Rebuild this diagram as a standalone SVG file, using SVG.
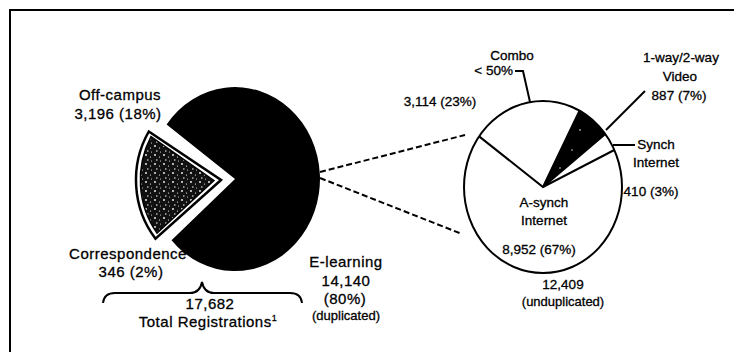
<svg xmlns="http://www.w3.org/2000/svg" width="734" height="352" viewBox="0 0 734 352">
<style>
text{font-family:"Liberation Sans",Arial,sans-serif;fill:#000;stroke:#000;stroke-width:0.3;text-anchor:middle}
.l{font-size:15px;letter-spacing:0.5px}
.r{font-size:13.5px}
.s{font-size:13px}
.e{text-anchor:end}
.ln{stroke:#000;stroke-width:2;fill:none}
.dash{stroke:#000;stroke-width:2;fill:none;stroke-dasharray:6 3}
</style>
<defs>
<pattern id="speck" width="9" height="9" patternUnits="userSpaceOnUse">
<rect width="9" height="9" fill="#111"/>
<circle cx="2" cy="2" r="0.9" fill="#fff"/>
<circle cx="6.5" cy="4" r="0.6" fill="#fff"/>
<rect x="3" y="6.5" width="1.5" height="1" fill="#fff"/>
<circle cx="7.5" cy="8" r="0.5" fill="#fff"/>
</pattern>
</defs>
<rect width="734" height="352" fill="#fff"/>
<path class="ln" d="M10,352 L10,10 L734,10"/>

<g id="elearning">
<path d="M235,179 L166.6,124.4 A85,92 0 1 1 171.5,240.2 Z" fill="#000"/>
<text class="l" x="346" y="267">E-learning</text>
<text class="l" x="346" y="286">14,140</text>
<text class="l" x="345" y="304">(80%)</text>
<text class="s" x="346" y="320">(duplicated)</text>
</g>

<g id="offcampus">
<path d="M221,180 L155.5,238.7 A85,92 0 0 1 148.8,131.5 Z" fill="#fff" stroke="#000" stroke-width="2.5"/>
<path d="M214,180.5 L157,233 A80,87 0 0 1 151,136.5 Z" fill="url(#speck)" stroke="#000" stroke-width="1.5"/>
<text class="l" x="120" y="100">Off-campus</text>
<text class="l" x="118" y="119">3,196 (18%)</text>
<text class="l" x="128" y="259">Correspondence</text>
<text class="l" x="131" y="277">346 (2%)</text>
</g>

<g id="total">
<text class="l" x="210" y="309">17,682</text>
<text class="l" x="208" y="327">Total Registrations<tspan font-size="9" dy="-6">1</tspan></text>
</g>

<g id="breakdown">
<ellipse cx="543" cy="187" rx="79" ry="86" fill="#fff" stroke="#000" stroke-width="2"/>
<path d="M543,187 L579.5,110.7 A79,86 0 0 1 605.3,134 Z" fill="#000"/>
<circle cx="580" cy="130" r="0.8" fill="#fff"/>
<circle cx="572" cy="150" r="0.7" fill="#fff"/>
<circle cx="560" cy="168" r="0.7" fill="#fff"/>
<path class="ln" d="M479.1,136.4 L543,187 L614.3,150"/>
<path class="ln" d="M543,187 L579.5,110.7 M543,187 L605.3,134"/>
<text class="r" x="512" y="60">Combo</text>
<text class="r e" x="513" y="75">&lt; 50%</text>
<text class="r" x="440" y="106">3,114 (23%)</text>
<text class="r" x="681" y="62">1-way/2-way</text>
<text class="r" x="680" y="81">Video</text>
<text class="r" x="679" y="100">887 (7%)</text>
<text class="r" x="656" y="149">Synch</text>
<text class="r" x="656" y="167">Internet</text>
<text class="r" x="651" y="196">410 (3%)</text>
<text class="r" x="544" y="207">A-synch</text>
<text class="r" x="544" y="225">Internet</text>
<text class="r" x="539" y="254">8,952 (67%)</text>
<text class="r" x="563" y="289">12,409</text>
<text class="s" x="563" y="306">(unduplicated)</text>
</g>

<g id="connectors">
<path class="dash" d="M320,172 L465,135"/>
<path class="dash" d="M320,178 L462,234"/>
<path class="ln" d="M515,71 L523,71 L530,102"/>
<path class="ln" d="M606,130 L645,91"/>
<path class="ln" d="M613,145 L635,145"/>
<path class="ln" d="M103,303 Q104,293 115,293 L190,293 Q200,293 202,282 Q204,293 214,293 L290,293 Q301,293 302,303"/>
</g>
</svg>
